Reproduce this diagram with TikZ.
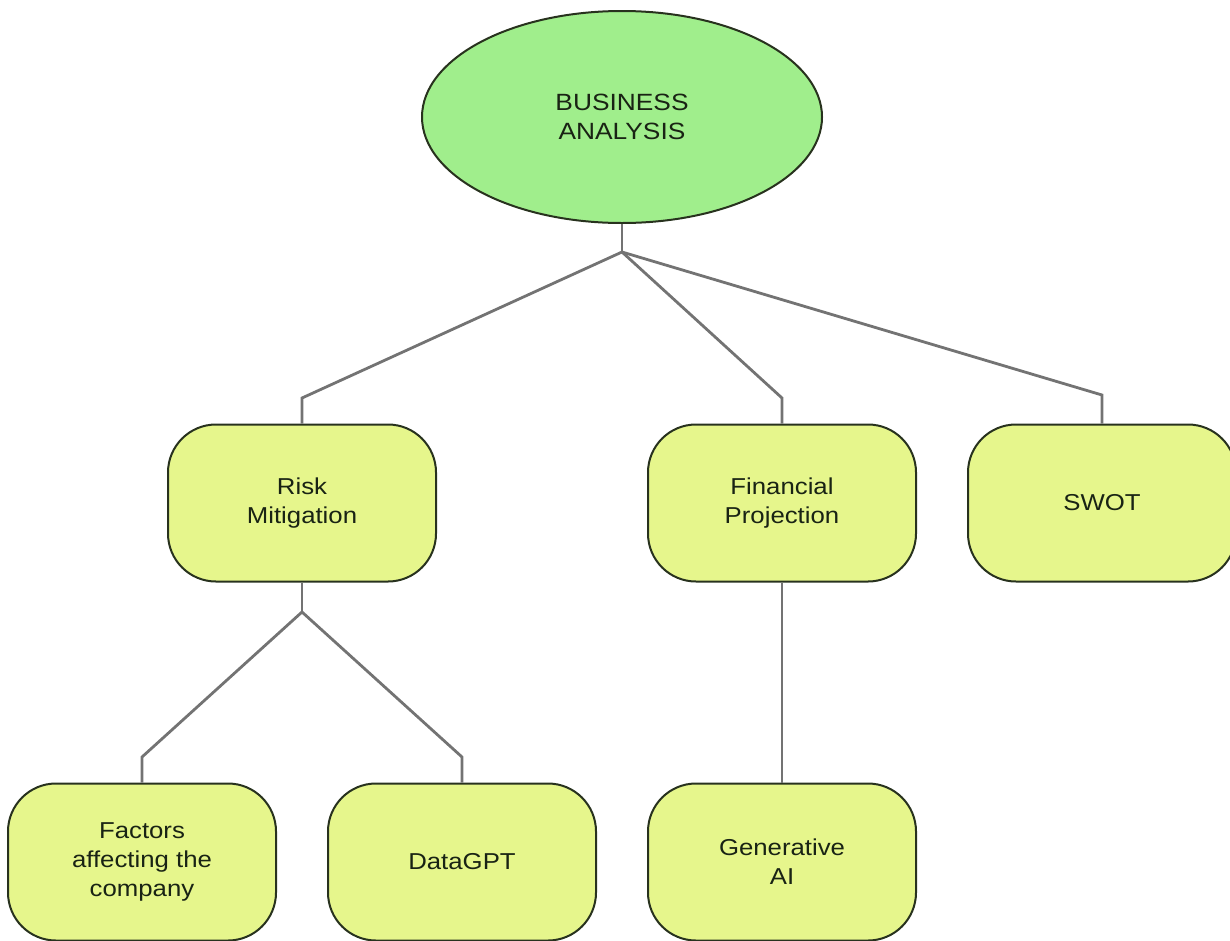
\documentclass[tikz,border=0pt]{standalone}
\usepackage{fontspec}
\setmainfont[FakeStretch=1.12]{Liberation Sans}
\usetikzlibrary{shapes.geometric}
\definecolor{rootfill}{RGB}{160,238,140}
\definecolor{boxfill}{RGB}{230,246,140}
\definecolor{edgeline}{RGB}{40,50,30}
\definecolor{linkgrey}{RGB}{115,115,115}
\definecolor{labeltext}{RGB}{25,35,20}
\tikzset{
  root/.style={ellipse, draw=edgeline, line width=2pt, fill=rootfill,
    minimum width=400pt, minimum height=212pt, inner sep=0pt,
    align=center, text=labeltext,
    font=\fontsize{23.5}{29}\selectfont},
  topic/.style={rectangle, rounded corners=48pt, draw=edgeline, line width=2pt,
    fill=boxfill, minimum width=268pt, minimum height=157pt, inner sep=0pt,
    align=center, text=labeltext,
    font=\fontsize{23}{29}\selectfont},
  link/.style={draw=linkgrey, line width=2.8pt}
}
\begin{document}
\begin{tikzpicture}[x=1pt,y=-1pt]
  \useasboundingbox (0,0) rectangle (1230,940);
  \clip (0,0) rectangle (1230,940);

  % nodes
  \node[root]  (ba)  at (622,117) {BUSINESS\\ANALYSIS};
  \node[topic] (rm)  at (302,503) {Risk\\Mitigation};
  \node[topic] (fp)  at (782,503) {Financial\\Projection};
  \node[topic] (sw)  at (1102,503) {SWOT};
  \node[topic] (fac) at (142,862) {Factors\\affecting the\\company};
  \node[topic] (dg)  at (462,862) {DataGPT};
  \node[topic] (gai) at (782,862) {Generative\\AI};

  % branch points
  \coordinate (j1) at (622,252);
  \coordinate (j2) at (302,612);

  % connectors from the root
  \draw[link] (ba.south) -- (j1);
  \draw[link] (j1) -- (rm.north |- 0,398) -- (rm.north);
  \draw[link] (j1) -- (fp.north |- 0,398) -- (fp.north);
  \draw[link] (j1) -- (sw.north |- 0,395) -- (sw.north);

  % connectors below Risk Mitigation
  \draw[link] (rm.south) -- (j2);
  \draw[link] (j2) -- (fac.north |- 0,757) -- (fac.north);
  \draw[link] (j2) -- (dg.north |- 0,757) -- (dg.north);

  % connector below Financial Projection
  \draw[link] (fp.south) -- (gai.north);
\end{tikzpicture}
\end{document}
